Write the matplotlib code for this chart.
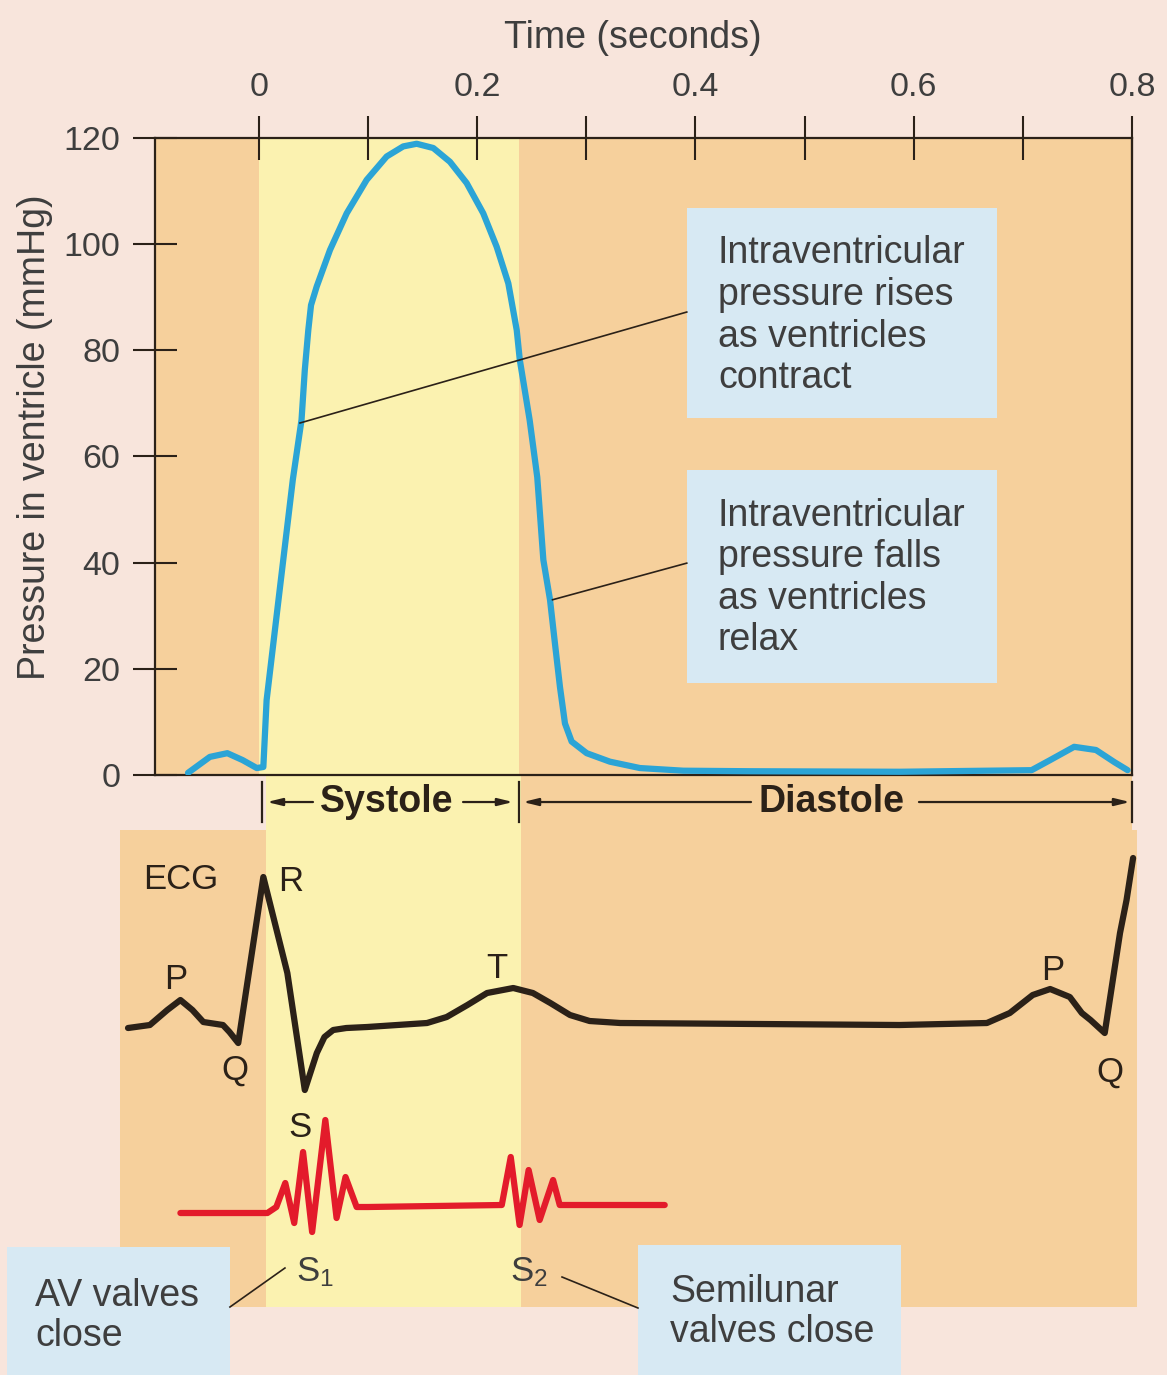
import numpy as np
import matplotlib.pyplot as plt
from matplotlib.patches import Rectangle

plt.rcParams['font.family'] = ['Liberation Sans', 'DejaVu Sans']
plt.rcParams['mathtext.fontset'] = 'custom'
plt.rcParams['mathtext.rm'] = 'Liberation Sans'
plt.rcParams['mathtext.it'] = 'Liberation Sans'

# --- data ---
# ventricular pressure curve: time (s), pressure (mmHg)
time_p = [-0.065, -0.045, -0.029, -0.015, -0.002, 0.004, 0.007, 0.019, 0.031, 0.039,
          0.042, 0.0452, 0.0477, 0.0529, 0.0651, 0.0804, 0.0987, 0.1170, 0.1322, 0.1445,
          0.1597, 0.1750, 0.1903, 0.2055, 0.2178, 0.2285, 0.2362, 0.239, 0.248, 0.255,
          0.2606, 0.2667, 0.2712, 0.2758, 0.2804, 0.2865, 0.3003, 0.3216, 0.3491, 0.3888,
          0.45, 0.587, 0.708, 0.725, 0.747, 0.767, 0.784, 0.796]
pressure = [0.4, 3.4, 4.1, 2.8, 1.3, 1.5, 14.1, 34.9, 55.6, 66.9,
            76.3, 83.8, 88.5, 92.0, 98.9, 105.8, 112.1, 116.5, 118.4, 118.9,
            118.1, 115.5, 111.5, 105.8, 99.5, 92.6, 83.8, 78.2, 66.9, 56.1,
            40.5, 33.0, 24.8, 16.6, 9.7, 6.3, 4.1, 2.5, 1.3, 0.8,
            0.7, 0.6, 0.9, 2.8, 5.3, 4.7, 2.4, 0.9]

# ECG trace: time (s), relative voltage
time_ecg = [-0.120, -0.100, -0.084, -0.072, -0.061, -0.051, -0.033, -0.027, -0.019, 0.004,
            0.026, 0.042, 0.053, 0.060, 0.068, 0.080, 0.099, 0.154, 0.172, 0.191,
            0.209, 0.233, 0.251, 0.267, 0.285, 0.303, 0.331, 0.587, 0.667, 0.688,
            0.709, 0.725, 0.743, 0.754, 0.762, 0.775, 0.789, 0.795, 0.801]
ecg = [-0.03, 0.0, 0.15, 0.25, 0.15, 0.03, 0.0, -0.07, -0.18, 1.48,
       0.52, -0.65, -0.28, -0.12, -0.05, -0.03, -0.02, 0.02, 0.08, 0.20,
       0.32, 0.37, 0.32, 0.22, 0.10, 0.04, 0.02, 0.0, 0.02, 0.12,
       0.30, 0.36, 0.28, 0.12, 0.05, -0.08, 0.92, 1.25, 1.67]

# heart sounds (phonocardiogram): time (s), relative amplitude
time_snd = [-0.072, 0.0077, 0.0159, 0.0241, 0.0323, 0.0404, 0.0487, 0.0608, 0.0711, 0.0793,
            0.0895, 0.0998, 0.2225, 0.2307, 0.2388, 0.2471, 0.2572, 0.2695, 0.2756, 0.3718]
sound = [-0.03, -0.03, 0.03, 0.27, -0.13, 0.58, -0.22, 0.90, -0.08, 0.33,
         0.03, 0.03, 0.05, 0.53, -0.15, 0.40, -0.10, 0.30, 0.05, 0.05]

xticks = [0, 0.1, 0.2, 0.3, 0.4, 0.5, 0.6, 0.7, 0.8]
xtick_labels = ['0', '', '0.2', '', '0.4', '', '0.6', '', '0.8']
yticks = [0, 20, 40, 60, 80, 100, 120]
systole_start = 0.003
systole_end = 0.238
cycle_end = 0.8

# --- colours ---
PINK = '#f8e5dc'
TAN = '#f6d09c'
YELLOW = '#fbf2b0'
BOXBLUE = '#d7e9f3'
BLUE = '#2ba4d6'
DARK = '#2b2118'
GRAY = '#3e3e3e'
RED = '#e31b2b'

fig = plt.figure(figsize=(11.67, 13.75), dpi=100)
fig.patch.set_facecolor(PINK)

# ---------- pressure panel ----------
ax = fig.add_axes([0.1328, 0.4364, 0.8372, 0.4633])
ax.set_xlim(-0.0953, 0.8)
ax.set_ylim(0, 120)
ax.set_facecolor(TAN)
ax.axvspan(0, systole_end, color=YELLOW, lw=0, zorder=0)
ax.plot(time_p, pressure, color=BLUE, lw=4.5, solid_joinstyle='round',
        solid_capstyle='round', zorder=3)

ax.xaxis.tick_top()
ax.set_xticks(xticks)
ax.set_xticklabels(xtick_labels)
ax.set_yticks(yticks)
ax.tick_params(direction='inout', length=32, width=1.5, color=DARK,
               labelsize=24.5, labelcolor=GRAY, pad=9)
for s in ax.spines.values():
    s.set_color(DARK)
    s.set_linewidth(1.6)

fig.text(633 / 1167, 1 - 38 / 1375, 'Time (seconds)', fontsize=27, color=GRAY,
         ha='center', va='center')
fig.text(35 / 1167, 1 - 437 / 1375, 'Pressure in ventricle (mmHg)', fontsize=27,
         color=GRAY, ha='center', va='center', rotation=90)

# callout boxes
ax.add_patch(Rectangle((0.392, 67.3), 0.284, 39.5, color=BOXBLUE, lw=0, zorder=4))
ax.add_patch(Rectangle((0.392, 17.3), 0.284, 40.2, color=BOXBLUE, lw=0, zorder=4))
ax.text(0.4206, 86.5, 'Intraventricular\npressure rises\nas ventricles\ncontract',
        fontsize=27, color=GRAY, ha='left', va='center', linespacing=1.2, zorder=5)
ax.text(0.4206, 37.1, 'Intraventricular\npressure falls\nas ventricles\nrelax',
        fontsize=27, color=GRAY, ha='left', va='center', linespacing=1.2, zorder=5)
ax.plot([0.0376, 0.392], [66.3, 87.2], color=DARK, lw=1.2, zorder=5)
ax.plot([0.269, 0.392], [33.0, 39.9], color=DARK, lw=1.2, zorder=5)

# systole / diastole bar
for t in [systole_start, systole_end, cycle_end]:
    ax.plot([t, t], [-1.3, -8.9], color=DARK, lw=1.6, clip_on=False, zorder=6)
arrow_kw = dict(arrowstyle='-|>,head_length=0.9,head_width=0.22', color=DARK,
                lw=1.6, shrinkA=0, shrinkB=0)
for x0, x1 in [(0.0495, 0.0073), (0.187, 0.2328), (0.4509, 0.2419), (0.6048, 0.7982)]:
    ax.annotate('', xy=(x1, -5.1), xytext=(x0, -5.1), arrowprops=arrow_kw,
                annotation_clip=False, zorder=6)
ax.text(0.117, -5.1, 'Systole', fontsize=27, fontweight='bold', color=DARK,
        ha='center', va='center', clip_on=False)
ax.text(0.525, -5.1, 'Diastole', fontsize=27, fontweight='bold', color=DARK,
        ha='center', va='center', clip_on=False)

# ---------- ECG / heart sound panel ----------
ax2 = fig.add_axes([0.1028, 0.04945, 0.8715, 0.3869], zorder=-1)
ax2.set_xlim(-0.12738, 0.80458)
ax2.set_ylim(-2.82, 2.5)
ax2.axis('off')
ax2.add_patch(Rectangle((-0.12738, -2.82), 0.93196, 4.77, color=TAN, lw=0, zorder=0))
ax2.add_patch(Rectangle((systole_end, 1.9), cycle_end - systole_end, 0.7, color=TAN,
                        lw=0, zorder=0))
ax2.add_patch(Rectangle((0.006, -2.82), systole_end - 0.004, 5.4, color=YELLOW,
                        lw=0, zorder=1))

ax2.plot(time_ecg, ecg, color=DARK, lw=4.5, solid_joinstyle='round',
         solid_capstyle='round', zorder=3)
SND_BASE = -1.85
ax2.plot(time_snd, np.array(sound) + SND_BASE, color=RED, lw=4.5,
         solid_joinstyle='round', solid_capstyle='round', zorder=3)

lab_kw = dict(fontsize=25, color=DARK, ha='center', va='center', zorder=4)
ax2.text(-0.0715, 1.46, 'ECG', **lab_kw)
ax2.text(0.029, 1.44, 'R', **lab_kw)
ax2.text(-0.076, 0.46, 'P', **lab_kw)
ax2.text(-0.022, -0.45, 'Q', **lab_kw)
ax2.text(0.218, 0.57, 'T', **lab_kw)
ax2.text(0.0376, -1.02, 'S', **lab_kw)
ax2.text(0.727, 0.55, 'P', **lab_kw)
ax2.text(0.780, -0.47, 'Q', **lab_kw)
ax2.text(0.051, -2.47, 'S$_1$', fontsize=25, color=GRAY, ha='center', va='center')
ax2.text(0.247, -2.47, 'S$_2$', fontsize=25, color=GRAY, ha='center', va='center')

# valve callouts
ax2.add_patch(Rectangle((-0.231, -3.6), 0.2044, 1.38, color=BOXBLUE, lw=0,
                        zorder=5, clip_on=False))
ax2.add_patch(Rectangle((0.3473, -3.6), 0.2410, 1.40, color=BOXBLUE, lw=0,
                        zorder=5, clip_on=False))
ax2.text(-0.205, -2.91, 'AV valves\nclose', fontsize=27, color=GRAY, ha='left',
         va='center', linespacing=1.15, zorder=6, clip_on=False)
ax2.text(0.3766, -2.87, 'Semilunar\nvalves close', fontsize=27, color=GRAY,
         ha='left', va='center', linespacing=1.15, zorder=6, clip_on=False)
ax2.plot([-0.0266, 0.0238], [-2.82, -2.43], color=DARK, lw=1.2, clip_on=False, zorder=6)
ax2.plot([0.2777, 0.3473], [-2.52, -2.83], color=DARK, lw=1.2, clip_on=False, zorder=6)

fig.savefig('out.png', dpi=100, facecolor=fig.get_facecolor())
